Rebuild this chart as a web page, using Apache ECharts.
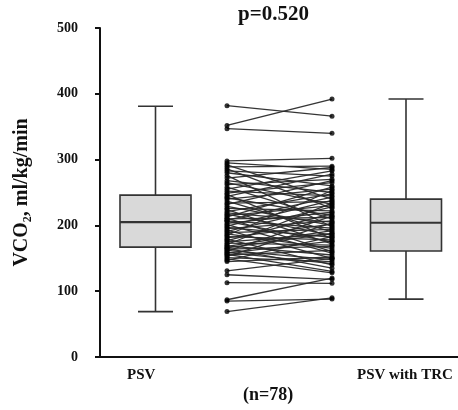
<!DOCTYPE html>
<html>
<head>
<meta charset="utf-8">
<script src="https://cdn.jsdelivr.net/npm/echarts@6/dist/echarts.min.js"></script>
<style>
  html, body { margin: 0; padding: 0; background: #fff; }
  #chart { width: 458px; height: 410px; }
</style>
</head>
<body>
<div id="chart"></div>
<script>
// y ticks
const yTicks = [0, 100, 200, 300, 400, 500];
const groups = ['PSV', 'PSV with TRC'];

// box stats: [min, Q1, median, Q3, max]
const psvBox = [69, 167, 205, 246, 381];
const trcBox = [88, 161, 204, 240, 392];

// paired values (n=78), left = PSV, right = PSV with TRC
const psvValues = [
  382, 352, 347,
  298, 295, 292, 289, 286, 283, 280, 276, 272, 268, 265, 262, 258, 255, 252, 249, 247,
  244, 242, 240, 237, 234, 232, 229, 226, 224, 221, 219, 217, 215, 213, 211, 210, 208, 207, 206,
  203, 201, 199, 197, 195, 193, 191, 189, 187, 185, 183, 181, 179, 177, 175, 173, 171, 169, 168,
  166, 165, 164, 162, 161, 159, 158, 156, 155, 153, 151, 149, 147, 145,
  131, 125, 113, 87, 85, 69
];
const trcValues = [
  366, 392, 340,
  302, 285, 240, 290, 226, 275, 260, 198, 288, 250, 232, 270, 210, 283, 245, 265, 180,
  278, 215, 255, 190, 236, 268, 200, 222, 172, 248, 205, 185, 230, 258, 160, 212, 243, 196, 175,
  220, 158, 238, 182, 207, 150, 228, 194, 165, 253, 178, 202, 140, 218, 187, 170, 234, 155, 192,
  188, 135, 168, 148, 214, 142, 176, 130, 162, 204, 145, 128, 183, 152,
  150, 118, 112, 120, 88, 90
];

// x layout (px from the y axis)
const X_BOX_L = 55.5, X_PAIR_L = 127, X_PAIR_R = 232, X_BOX_R = 306;

const chart = echarts.init(document.getElementById('chart'));
const serif = '"Liberation Serif", "DejaVu Serif", serif';

function renderBox(params, api) {
  const x = api.value(0);
  const p = (v) => api.coord([x, v]);
  const lo = p(api.value(1)), q1 = p(api.value(2)), md = p(api.value(3)),
        q3 = p(api.value(4)), hi = p(api.value(5));
  const cx = lo[0], hw = 35.5, cw = 17.5;
  const ln = { stroke: '#333', lineWidth: 1.6 };
  return {
    type: 'group',
    children: [
      { type: 'line', shape: { x1: cx, y1: hi[1], x2: cx, y2: q3[1] }, style: ln },
      { type: 'line', shape: { x1: cx, y1: q1[1], x2: cx, y2: lo[1] }, style: ln },
      { type: 'line', shape: { x1: cx - cw, y1: hi[1], x2: cx + cw, y2: hi[1] }, style: ln },
      { type: 'line', shape: { x1: cx - cw, y1: lo[1], x2: cx + cw, y2: lo[1] }, style: ln },
      { type: 'rect', shape: { x: cx - hw, y: q3[1], width: hw * 2, height: q1[1] - q3[1] },
        style: { fill: '#d9d9d9', stroke: '#333', lineWidth: 1.6 } },
      { type: 'line', shape: { x1: cx - hw, y1: md[1], x2: cx + hw, y2: md[1] },
        style: { stroke: '#333', lineWidth: 2.2 } }
    ]
  };
}

const pairLines = psvValues.map((v, i) => ({ coords: [[X_PAIR_L, v], [X_PAIR_R, trcValues[i]]] }));
const pairDots = psvValues.map(v => [X_PAIR_L, v]).concat(trcValues.map(v => [X_PAIR_R, v]));

chart.setOption({
  animation: false,
  backgroundColor: '#fff',
  grid: { left: 100, right: 0, top: 28, bottom: 53, outerBoundsMode: 'none', containLabel: false },
  xAxis: {
    type: 'value', min: 0, max: 358,
    axisLine: { show: true, onZero: false, lineStyle: { color: '#111', width: 2 } },
    axisTick: { show: false },
    axisLabel: { show: false },
    splitLine: { show: false }
  },
  yAxis: {
    type: 'value', min: yTicks[0], max: yTicks[yTicks.length - 1], interval: 100,
    name: 'VCO\u2082, ml/kg/min',
    nameLocation: 'middle', nameGap: 68, nameRotate: 90,
    nameTextStyle: { fontFamily: serif, fontWeight: 'bold', fontSize: 20, color: '#111' },
    axisLine: { show: true, lineStyle: { color: '#111', width: 2 } },
    axisTick: { show: true, length: 5, lineStyle: { color: '#111', width: 2 } },
    axisLabel: { margin: 22, fontFamily: serif, fontWeight: 'bold', fontSize: 14, color: '#111' },
    splitLine: { show: false }
  },
  series: [
    {
      type: 'custom',
      renderItem: renderBox,
      encode: { x: 0, y: [1, 2, 3, 4, 5] },
      data: [[X_BOX_L].concat(psvBox), [X_BOX_R].concat(trcBox)],
      z: 2
    },
    {
      type: 'lines',
      coordinateSystem: 'cartesian2d',
      data: pairLines,
      lineStyle: { color: '#2a2a2a', width: 1.3, opacity: 0.95 },
      z: 3
    },
    {
      type: 'scatter',
      data: pairDots,
      symbolSize: 5,
      itemStyle: { color: '#000' },
      z: 4
    }
  ],
  graphic: [
    { type: 'text', left: 238, top: 4, style: { text: 'p=0.520', font: 'bold 21px ' + serif, fill: '#111' } },
    { type: 'text', left: 127, top: 368, style: { text: groups[0], font: 'bold 15px ' + serif, fill: '#111' } },
    { type: 'text', left: 357, top: 368, style: { text: groups[1], font: 'bold 15px ' + serif, fill: '#111' } },
    { type: 'text', left: 243, top: 386, style: { text: '(n=78)', font: 'bold 18px ' + serif, fill: '#111' } }
  ]
});
</script>
</body>
</html>
